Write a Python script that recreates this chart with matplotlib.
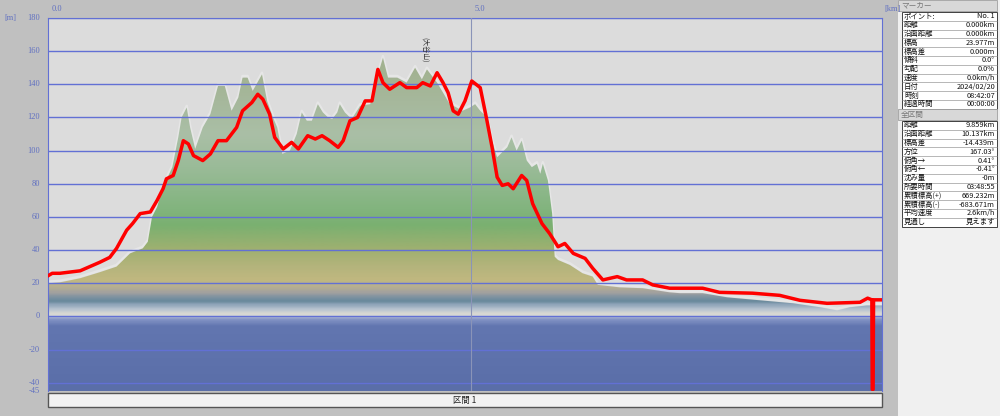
import numpy as np
import matplotlib
matplotlib.use("Agg")
import matplotlib.pyplot as plt
from matplotlib.colors import LinearSegmentedColormap
from matplotlib.patches import Polygon, Rectangle

plt.rcParams['font.family'] = ['Noto Sans CJK JP', 'DejaVu Sans']

# 地形断面 (km, m)
ground_km = [0.0, 0.14, 0.38, 0.61, 0.81, 0.97, 1.12, 1.18, 1.23, 1.29, 1.36, 1.47, 1.54, 1.58, 1.64,
             1.68, 1.74, 1.83, 1.92, 2.01, 2.09, 2.17, 2.25, 2.30, 2.36, 2.42, 2.53, 2.59, 2.66, 2.71,
             2.77, 2.86, 2.94, 3.00, 3.06, 3.12, 3.19, 3.25, 3.31, 3.36, 3.42, 3.45, 3.51, 3.59, 3.69,
             3.81, 3.89, 3.96, 4.02, 4.13, 4.24, 4.34, 4.42, 4.48, 4.60, 4.67, 4.75, 4.83, 4.90, 4.99,
             5.05, 5.11, 5.19, 5.25, 5.31, 5.37, 5.43, 5.48, 5.54, 5.60, 5.66, 5.72, 5.78, 5.82, 5.85,
             5.91, 5.96, 5.99, 6.03, 6.17, 6.32, 6.44, 6.50, 6.76, 7.03, 7.35, 7.47, 7.74, 8.03, 8.42,
             8.81, 9.13, 9.33, 9.48, 9.68, 9.86]
ground_m = [20, 20.5, 23, 26.6, 30, 38, 41, 45, 60, 66, 78, 90, 108, 120, 126,
            114, 101, 114, 122, 139, 139, 124, 132, 144, 144, 136, 146, 130, 120, 114,
            98, 100, 110, 123, 118, 118, 128, 123, 120, 119, 123, 128, 123, 119, 127,
            128, 144, 156, 144, 144, 141, 150, 143, 149, 141, 135, 128, 126, 124, 126,
            128, 124, 120, 106, 96, 99, 102, 108, 100, 106, 94, 90, 92, 86, 92,
            82, 62, 36, 34, 31, 26, 24, 19, 17.5, 17, 14.5, 14, 14, 11.5, 9.7,
            7.9, 5.5, 3.6, 5.5, 6.6, 6.6]

# GPS軌跡 (km, m)
track_km = [0.0, 0.05, 0.14, 0.38, 0.61, 0.73, 0.81, 0.93, 1.0, 1.09, 1.21, 1.29, 1.36, 1.40, 1.48,
            1.54, 1.60, 1.66, 1.72, 1.83, 1.92, 2.01, 2.11, 2.23, 2.30, 2.41, 2.48, 2.54, 2.62, 2.68,
            2.78, 2.88, 2.96, 3.07, 3.16, 3.24, 3.33, 3.43, 3.49, 3.57, 3.66, 3.75, 3.83, 3.90, 3.96,
            4.04, 4.16, 4.24, 4.36, 4.43, 4.52, 4.60, 4.67, 4.73, 4.79, 4.85, 4.93, 5.01, 5.11, 5.19,
            5.25, 5.31, 5.37, 5.44, 5.50, 5.60, 5.66, 5.73, 5.84, 5.93, 6.03, 6.11, 6.21, 6.35, 6.44,
            6.56, 6.73, 6.84, 7.03, 7.15, 7.35, 7.74, 7.94, 8.33, 8.65, 8.89, 9.21, 9.60, 9.69, 9.74,
            9.745, 9.755, 9.76, 9.86]
track_m = [24.5, 26, 26, 27.5, 32.6, 35.6, 41, 52, 56, 62, 63, 70, 77, 83, 85,
           94, 106, 104, 97, 94, 98, 106, 106, 114, 124, 129, 134, 131, 122, 108,
           101, 105, 101, 109, 107, 109, 106, 102, 106, 118, 120, 130, 130, 149, 141,
           137, 141, 138, 138, 141, 139, 147, 141, 135, 124, 122, 130, 142, 138, 118,
           102, 84, 79, 80, 77, 85, 82, 68, 56, 50, 42, 44, 38, 35, 29,
           22, 24, 22, 22, 19, 17, 17, 14.5, 14, 12.7, 9.7, 7.9, 8.5, 11, 10,
           -44, -44, 10, 10]

y_ticks = [180, 160, 140, 120, 100, 80, 60, 40, 20, 0, -20, -40, -45]

marker_rows = [("ポイント:", "No. 1"), ("距離", "0.000km"), ("沿面距離", "0.000km"),
               ("標高", "23.977m"), ("標高差", "0.000m"), ("傾斜", "0.0°"), ("勾配", "0.0%"),
               ("速度", "0.0km/h"), ("日付", "2024/02/20"), ("時刻", "08:42:07"),
               ("経過時間", "00:00:00")]
total_rows = [("距離", "9.859km"), ("沿面距離", "10.137km"), ("標高差", "-14.439m"),
              ("方位", "167.03°"), ("俯角→", "0.41°"), ("俯角←", "-0.41°"), ("沈み量", "-0m"),
              ("所要時間", "03:48:55"), ("累積標高(+)", "669.232m"), ("累積標高(-)", "-683.671m"),
              ("平均速度", "2.6km/h"), ("見通し", "見えます")]

X_MAX = 9.86
Y_MIN, Y_MAX = -45, 180

fig = plt.figure(figsize=(10, 4.16), dpi=100, facecolor='#c0c0c0')
ax = fig.add_axes([0.048, 1 - 391 / 416, 0.834, (391 - 18) / 416])
ax.set_facecolor('#dcdcdc')
ax.set_xlim(0, X_MAX)
ax.set_ylim(Y_MIN, Y_MAX)

# 標高グラデーション
stops = [(-45, '#5a6ea8'), (-6, '#6276b0'), (-1.5, '#8898c8'), (0, '#d4d6d8'), (1.5, '#d8d8d2'),
         (4, '#b8c4d0'), (7, '#8ea4b8'), (9, '#6a8a9c'), (11, '#7890a0'), (14, '#a0a0a0'),
         (18, '#b8b090'), (22, '#c0b880'), (30, '#b4b47c'), (40, '#a0b070'), (55, '#7ab070'),
         (65, '#82b47e'), (90, '#9abb98'), (110, '#aabfa6'), (130, '#a6b89c'), (150, '#a2b290'),
         (180, '#a2b290')]
cmap = LinearSegmentedColormap.from_list(
    'elev', [((v - Y_MIN) / (Y_MAX - Y_MIN), c) for v, c in stops], N=512)
grad = np.linspace(Y_MIN, Y_MAX, 600).reshape(-1, 1)

ax.plot(ground_km, np.array(ground_m) + 1.0, color='#e6e6e6', lw=1.8, zorder=1)
poly = Polygon(list(zip([0] + ground_km + [X_MAX], [Y_MIN] + ground_m + [Y_MIN])),
               closed=True, facecolor='none', edgecolor='none')
ax.add_patch(poly)
im = ax.imshow(grad, cmap=cmap, origin='lower', aspect='auto',
               extent=[0, X_MAX, Y_MIN, Y_MAX], interpolation='bilinear', zorder=2)
im.set_clip_path(poly)

for t in range(-40, 181, 20):
    ax.axhline(t, color='#6270d4', lw=1.0, zorder=3)
ax.axvline(5.0, color='#8a94b8', lw=0.8, zorder=3)

ax.plot(track_km, track_m, color='#ff0000', lw=2.5, zorder=5, solid_joinstyle='round')
ax.text(4.46, 161, "(大谷山)", rotation=-90, fontsize=5, ha='center', va='center',
        color='#333333', zorder=6)

for s in ax.spines.values():
    s.set_color('#6270d4')
ax.spines['bottom'].set_visible(False)
ax.set_xticks([])
ax.set_yticks([])

# 軸ラベル
for t in y_ticks:
    yf = 1 - (18 + (180 - t) * (373 / 225)) / 416
    fig.text(0.040, yf, str(t), fontsize=6, color='#6070c0', ha='right', va='center',
             family='Liberation Serif')
fig.text(0.004, 1 - 18 / 416, "[m]", fontsize=6, color='#6070c0', va='center', family='Liberation Serif')
for v in [0.0, 5.0]:
    fig.text((48 + v * 84.6 + 4) / 1000, 1 - 9 / 416, f"{v:.1f}", fontsize=6, color='#6070c0',
             va='center', family='Liberation Serif')
fig.text(0.884, 1 - 9 / 416, "[km]", fontsize=6, color='#6070c0', va='center', family='Liberation Serif')

# 区間バー
fig.patches.append(Rectangle((0.048, 1 - 407 / 416), 0.834, 14 / 416, transform=fig.transFigure,
                             facecolor='#f2f2f2', edgecolor='#555555', lw=1))
fig.text(0.465, 1 - 400 / 416, "区間 1", fontsize=6, ha='center', va='center', color='#222222')

# 右パネル
fig.patches.append(Rectangle((0.898, 0), 0.102, 1, transform=fig.transFigure,
                             facecolor='#f0f0f0', edgecolor='none'))


def draw_header(y_top, label):
    fig.patches.append(Rectangle((0.898, 1 - (y_top + 11) / 416), 0.099, 11 / 416,
                                 transform=fig.transFigure, facecolor='#d8d8d8', edgecolor='#a0a0a0', lw=0.6))
    fig.text(0.901, 1 - (y_top + 5.5) / 416, label, fontsize=5.5, color='#777777', va='center')


def draw_table(y_top, rows, row_h=8.8):
    h = row_h * len(rows)
    fig.patches.append(Rectangle((0.902, 1 - (y_top + h) / 416), 0.095, h / 416,
                                 transform=fig.transFigure, facecolor='white', edgecolor='#404040', lw=0.7))
    for i, (k, v) in enumerate(rows):
        yc = 1 - (y_top + row_h * (i + 0.5)) / 416
        fig.text(0.904, yc, k, fontsize=5.3, va='center', color='#111111')
        fig.text(0.995, yc, v, fontsize=5.3, va='center', ha='right', color='#111111')
        if i > 0:
            yl = 1 - (y_top + row_h * i) / 416
            fig.add_artist(plt.Line2D([0.902, 0.997], [yl, yl], transform=fig.transFigure,
                                      color='#808080', lw=0.4))


draw_header(0, "マーカー")
draw_table(12, marker_rows)
draw_header(109, "全区間")
draw_table(121, total_rows)

fig.savefig("out.png", dpi=100, facecolor=fig.get_facecolor())
